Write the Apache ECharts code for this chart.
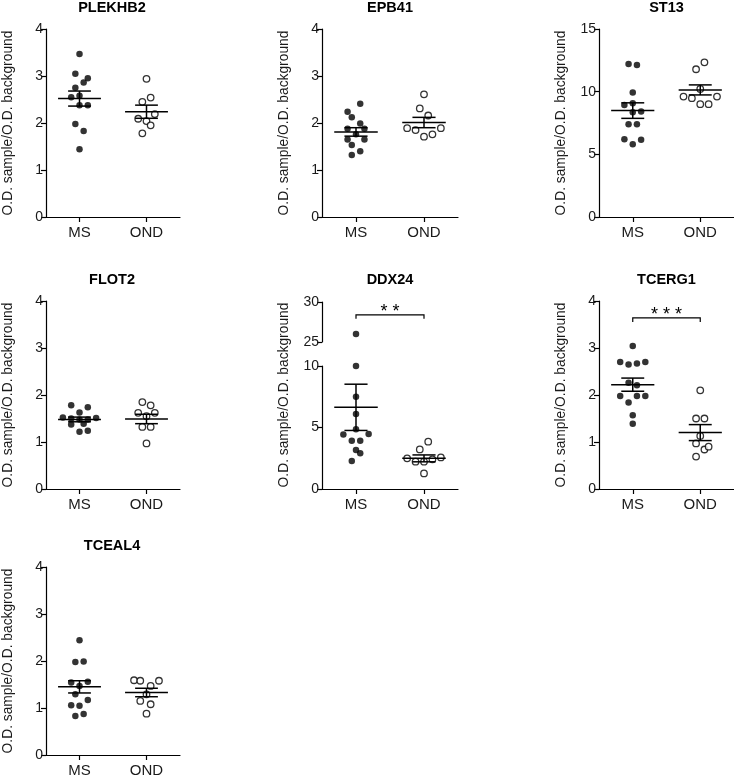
<!DOCTYPE html>
<html><head><meta charset="utf-8">
<script src="https://cdn.jsdelivr.net/npm/echarts@6/dist/echarts.min.js"></script>
<style>html,body{margin:0;padding:0;background:#fff}#c{width:734px;height:778px}</style>
</head><body><div id="c"></div>
<script>
// ---------- data ----------
const groups = ['MS', 'OND'];
const yName = 'O.D. sample/O.D. background';
const titles = ['PLEKHB2', 'EPB41', 'ST13', 'FLOT2', 'DDX24', 'TCERG1', 'TCEAL4'];

const plekhb2MS = [3.47, 3.05, 2.95, 2.86, 2.75, 2.55, 2.58, 2.38, 2.38, 1.98, 1.83, 1.44];
const plekhb2MSx = [0, -1, 2, 1, -1, -2, 0, 0, 2, -1, 1, 0];
const plekhb2OND = [2.94, 2.45, 2.54, 2.19, 2.09, 2.04, 1.95, 1.78];
const plekhb2ONDx = [0, -1, 1, 2, -2, 0, 1, -1];
const plekhb2Stats = [[2.52, 0.16], [2.24, 0.14]];

const epb41MS = [2.41, 2.24, 2.12, 1.99, 1.88, 1.88, 1.76, 1.65, 1.65, 1.53, 1.40, 1.32];
const epb41MSx = [1, -2, -1, 1, -2, 2, 0, -2, 2, -1, 1, -1];
const epb41OND = [2.61, 2.31, 2.16, 1.89, 1.85, 1.71, 1.76, 1.89];
const epb41ONDx = [0, -1, 1, -4, -2, 0, 2, 4];
const epb41Stats = [[1.81, 0.09], [2.01, 0.11]];

const st13MS = [12.21, 12.13, 9.93, 9.08, 8.94, 8.41, 8.36, 7.41, 7.41, 6.21, 6.16, 5.81];
const st13MSx = [-1, 1, 0, 0, -2, 2, 0, -1, 1, -2, 2, 0];
const st13OND = [12.34, 11.79, 10.22, 9.61, 9.48, 9.61, 9.0, 9.0];
const st13ONDx = [1, -1, 0, -4, -2, 4, 0, 2];
const st13Stats = [[8.49, 0.62], [10.14, 0.40]];

const flot2MS = [1.78, 1.74, 1.63, 1.52, 1.51, 1.50, 1.48, 1.48, 1.37, 1.39, 1.22, 1.24];
const flot2MSx = [-2, 2, 0, -4, 4, -2, 2, 0, -2, 1, 0, 2];
const flot2OND = [1.85, 1.78, 1.62, 1.62, 1.55, 1.32, 1.32, 0.97];
const flot2ONDx = [-1, 1, -2, 2, 0, -1, 1, 0];
const flot2Stats = [[1.48, 0.05], [1.49, 0.10]];

const ddx24MS = [26.0, 10.0, 7.51, 6.10, 4.85, 4.44, 4.47, 3.93, 3.93, 3.17, 2.90, 2.28];
const ddx24MSx = [0, 0, 0, 0, 0, -3, 3, -1, 1, 0, 1, -1];
const ddx24OND = [3.85, 3.22, 2.49, 2.57, 2.41, 2.22, 2.22, 1.27];
const ddx24ONDx = [1, -1, -4, 4, 2, -2, 0, 0];
const ddx24Stats = [[6.64, 1.88], [2.49, 0.28]];

const tcerg1MS = [3.04, 2.70, 2.65, 2.67, 2.70, 2.26, 2.21, 1.98, 1.98, 1.98, 1.84, 1.57, 1.39];
const tcerg1MSx = [0, -3, -1, 1, 3, -1, 1, -3, 1, 3, -1, 0, 0];
const tcerg1OND = [2.10, 1.50, 1.50, 1.13, 0.97, 0.84, 0.90, 0.69];
const tcerg1ONDx = [0, -1, 1, 0, -1, 1, 2, -1];
const tcerg1Stats = [[2.22, 0.14], [1.20, 0.17]];

const tceal4MS = [2.44, 1.98, 1.99, 1.54, 1.56, 1.47, 1.29, 1.17, 1.06, 1.05, 0.83, 0.87];
const tceal4MSx = [0, -1, 1, -2, 2, 0, -1, 2, -2, 0, -1, 1];
const tceal4OND = [1.59, 1.58, 1.47, 1.58, 1.29, 1.15, 1.08, 0.88];
const tceal4ONDx = [-3, -1.5, 1, 3, 0, -1.5, 1, 0];
const tceal4Stats = [[1.45, 0.13], [1.33, 0.09]];

// significance annotations: [label, bracket level]
const sigDDX24 = ['**', 28.4];
const sigTCERG1 = ['***', 3.64];

const yTicks4 = [0, 4, 1];
const yTicks15 = [0, 15, 5];
const yTicksDDXLow = [0, 10, 5];
const yTicksDDXHigh = [25, 30, 5];

// ---------- chart construction ----------
const FONT = "'Liberation Sans', Arial, Helvetica, sans-serif";
const STEP = 0.062;      // beeswarm slot width in x-axis units
const MEANHW = 0.32;     // half width of mean line (x units)
const CAPHW = 0.17;      // half width of SEM caps (x units)
const TXT = '#1a1a1a';

const option = {
  animation: false,
  textStyle: { fontFamily: FONT },
  title: [], grid: [], xAxis: [], yAxis: [], series: []
};

function addGrid(l, t, w, h) {
  option.grid.push({ left: l, top: t, width: w, height: h });
  return option.grid.length - 1;
}
function addX(g, visible) {
  option.xAxis.push({
    gridIndex: g, type: 'value', min: 0, max: 2, show: visible,
    axisLine: { show: true, onZero: false, lineStyle: { color: '#000', width: 1.2 } },
    axisTick: { show: true, customValues: [0.5, 1.5], length: 5, lineStyle: { color: '#000', width: 1.2 } },
    axisLabel: { show: true, customValues: [0.5, 1.5], formatter: v => groups[Math.round(v - 0.5)],
      fontSize: 15, color: TXT, margin: 8, fontFamily: FONT },
    splitLine: { show: false }
  });
  return option.xAxis.length - 1;
}
function addY(g, ticks, name, opts) {
  const o = Object.assign({
    gridIndex: g, type: 'value', min: ticks[0], max: ticks[1], interval: ticks[2],
    name: name, nameLocation: 'middle', nameGap: 31,
    nameTextStyle: { fontSize: 13.8, color: TXT, fontFamily: FONT },
    axisLine: { show: true, onZero: false, lineStyle: { color: '#000', width: 1.2 } },
    axisTick: { show: true, length: 5, lineStyle: { color: '#000', width: 1.2 } },
    axisLabel: { fontSize: 14, color: TXT, margin: 3, fontFamily: FONT },
    splitLine: { show: false }
  }, opts || {});
  option.yAxis.push(o);
  return option.yAxis.length - 1;
}
function pts(vals, xs, gi, filter) {
  const out = [];
  vals.forEach((v, i) => { if (!filter || filter(v)) out.push([gi + 0.5 + xs[i] * STEP, v]); });
  return out;
}
function scatter(xi, yi, data, open) {
  option.series.push({
    type: 'scatter', xAxisIndex: xi, yAxisIndex: yi, data: data, symbolSize: 6.5,
    itemStyle: open ? { color: '#fff', borderColor: '#000', borderWidth: 1.3 } : { color: '#000' },
    emphasis: { disabled: true }, silent: true, z: 2
  });
}
function meanSem(xi, yi, stats) {
  option.series.push({
    type: 'custom', xAxisIndex: xi, yAxisIndex: yi, silent: true, z: 5,
    data: stats.map((s, i) => [i + 0.5, s[0], s[1]]),
    renderItem: (params, api) => {
      const x = api.value(0), m = api.value(1), s = api.value(2);
      const st = { stroke: '#000', lineWidth: 1.5, fill: null };
      const L = api.coord([x - MEANHW, m]), R = api.coord([x + MEANHW, m]);
      const T = api.coord([x, m + s]), B = api.coord([x, m - s]);
      const TL = api.coord([x - CAPHW, m + s]), TR = api.coord([x + CAPHW, m + s]);
      const BL = api.coord([x - CAPHW, m - s]), BR = api.coord([x + CAPHW, m - s]);
      return { type: 'group', children: [
        { type: 'line', shape: { x1: L[0], y1: L[1], x2: R[0], y2: R[1] }, style: st },
        { type: 'line', shape: { x1: T[0], y1: T[1], x2: B[0], y2: B[1] }, style: st },
        { type: 'line', shape: { x1: TL[0], y1: TL[1], x2: TR[0], y2: TR[1] }, style: st },
        { type: 'line', shape: { x1: BL[0], y1: BL[1], x2: BR[0], y2: BR[1] }, style: st }
      ]};
    }
  });
}
function sig(xi, yi, s) {
  option.series.push({
    type: 'custom', xAxisIndex: xi, yAxisIndex: yi, silent: true, z: 5,
    data: [[0.5, 1.5, s[1]]],
    renderItem: (params, api) => {
      const a = api.coord([api.value(0), api.value(2)]);
      const b = api.coord([api.value(1), api.value(2)]);
      return { type: 'group', children: [
        { type: 'polyline', shape: { points: [[a[0], a[1] + 4], a, b, [b[0], b[1] + 4]] },
          style: { stroke: '#000', lineWidth: 1.2, fill: null } },
        { type: 'text', x: (a[0] + b[0]) / 2, y: a[1] - 3,
          style: { text: s[0].split('').join(' '), fill: '#000', font: '18px ' + FONT, align: 'center', verticalAlign: 'middle' } }
      ]};
    }
  });
}
function addTitle(text, cx, top) {
  option.title.push({ text: text, left: cx, top: top, textAlign: 'center', padding: 0,
    textStyle: { fontSize: 14.5, fontWeight: 'bold', color: '#000', fontFamily: FONT } });
}

function panel(rect, title, ticks, ms, msx, ond, ondx, stats, sg) {
  const g = addGrid(rect[0], rect[1], rect[2], rect[3]);
  const xi = addX(g, true), yi = addY(g, ticks, yName);
  scatter(xi, yi, pts(ms, msx, 0), false);
  scatter(xi, yi, pts(ond, ondx, 1), true);
  meanSem(xi, yi, stats);
  if (sg) sig(xi, yi, sg);
  addTitle(title, rect[0] + rect[2] / 2, rect[1] - 29);
}

panel([44, 29, 136, 188], titles[0], yTicks4, plekhb2MS, plekhb2MSx, plekhb2OND, plekhb2ONDx, plekhb2Stats);
panel([322, 29, 136, 188], titles[1], yTicks4, epb41MS, epb41MSx, epb41OND, epb41ONDx, epb41Stats);
panel([599, 29, 135, 188], titles[2], yTicks15, st13MS, st13MSx, st13OND, st13ONDx, st13Stats);
panel([44, 301, 136, 188], titles[3], yTicks4, flot2MS, flot2MSx, flot2OND, flot2ONDx, flot2Stats);
panel([599, 301, 135, 188], titles[5], yTicks4, tcerg1MS, tcerg1MSx, tcerg1OND, tcerg1ONDx, tcerg1Stats, sigTCERG1);
panel([44, 567, 136, 189], titles[6], yTicks4, tceal4MS, tceal4MSx, tceal4OND, tceal4ONDx, tceal4Stats);

// DDX24 with broken y axis: two grids plus one for the axis name
(function () {
  const gn = addGrid(322, 301, 136, 188);
  addX(gn, false);
  addY(gn, [0, 1, 1], yName, { axisLine: { show: false }, axisTick: { show: false }, axisLabel: { show: false } });
  const gu = addGrid(322, 302, 136, 40);
  const xu = addX(gu, false), yu = addY(gu, yTicksDDXHigh, '');
  const gl = addGrid(322, 366, 136, 123);
  const xl = addX(gl, true), yl = addY(gl, yTicksDDXLow, '');
  scatter(xu, yu, pts(ddx24MS, ddx24MSx, 0, v => v >= 25), false);
  scatter(xl, yl, pts(ddx24MS, ddx24MSx, 0, v => v <= 10), false);
  scatter(xl, yl, pts(ddx24OND, ddx24ONDx, 1), true);
  meanSem(xl, yl, ddx24Stats);
  sig(xu, yu, sigDDX24);
  addTitle(titles[4], 390, 272);
})();

const chart = echarts.init(document.getElementById('c'), null, { renderer: 'canvas' });
chart.setOption(option);
</script>
</body></html>
